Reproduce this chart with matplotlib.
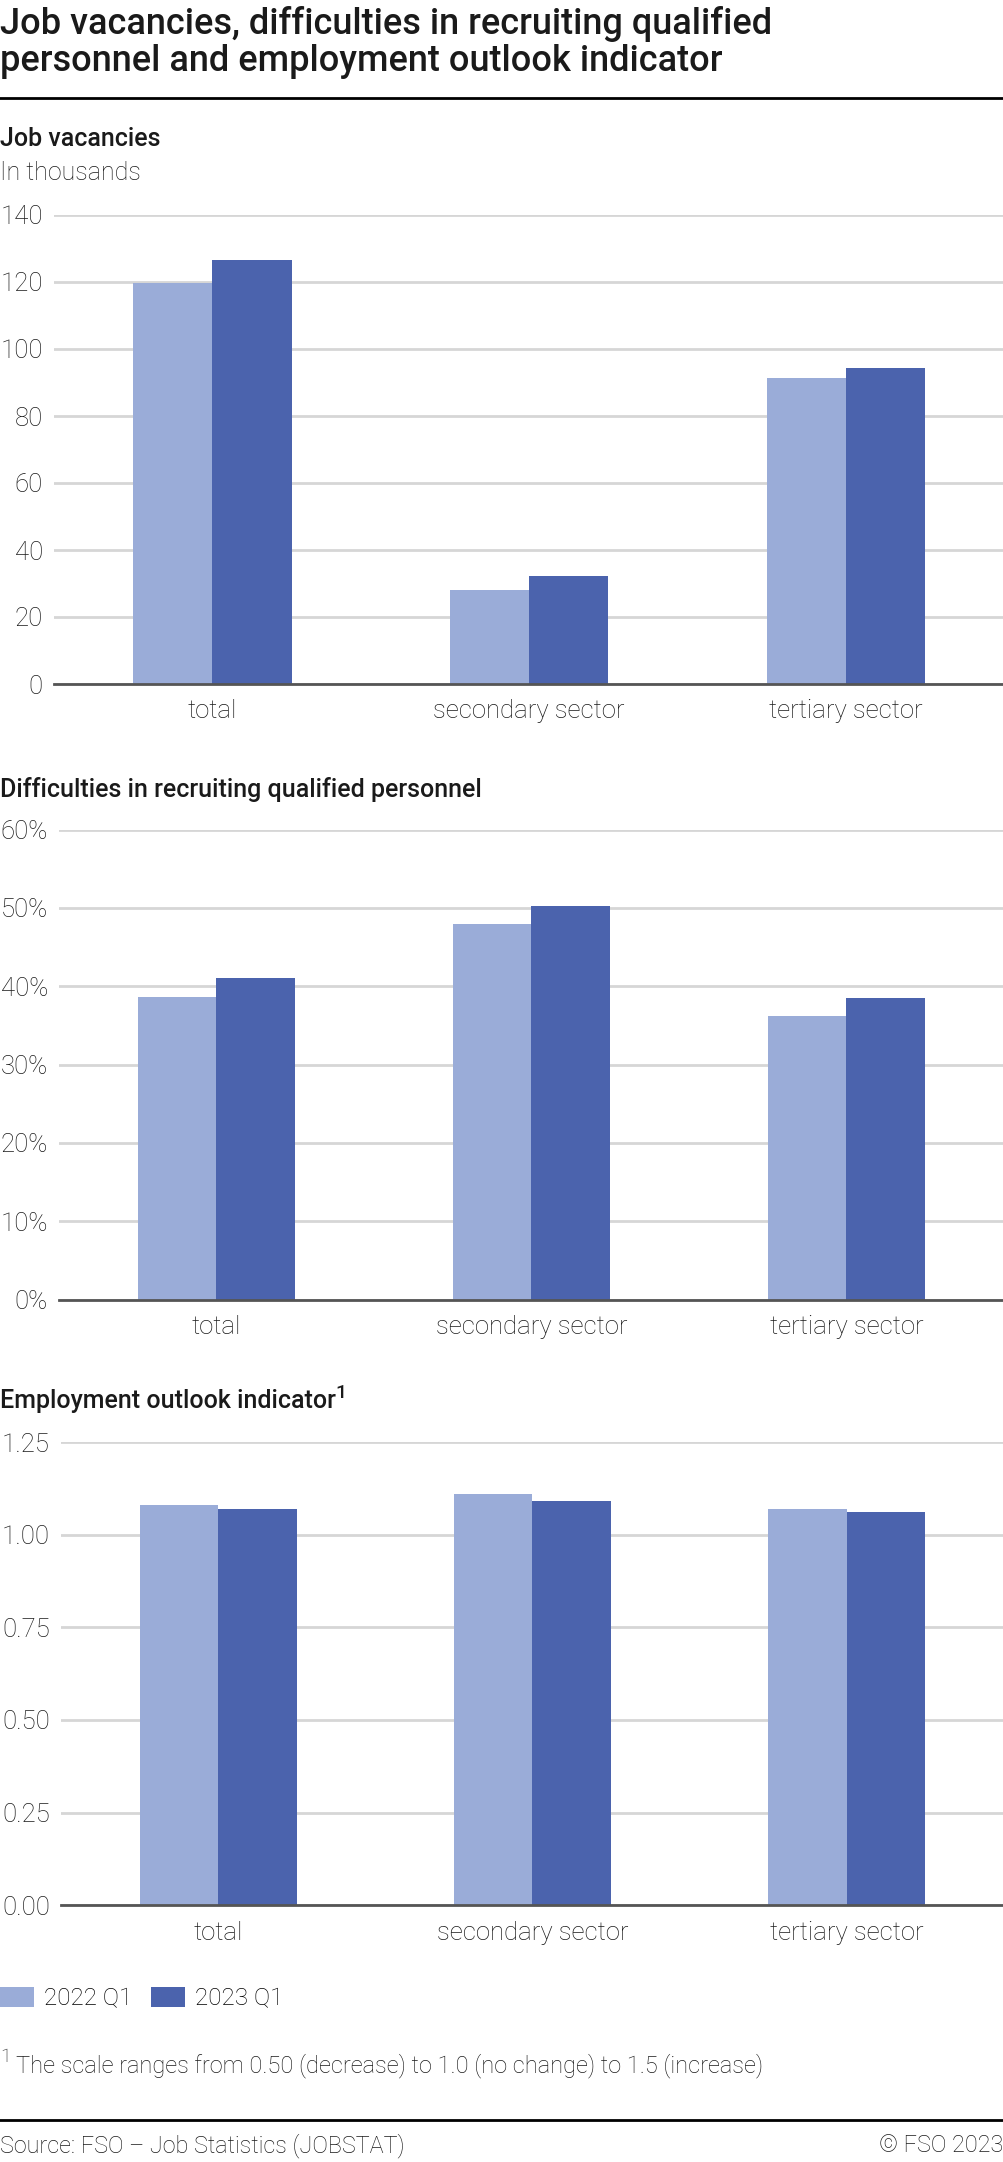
import matplotlib
matplotlib.use("Agg")
import matplotlib.pyplot as plt
from matplotlib.lines import Line2D
import numpy as np

plt.rcParams['font.family'] = ['Roboto', 'DejaVu Sans']

categories = ["total", "secondary sector", "tertiary sector"]
series_names = ["2022 Q1", "2023 Q1"]
vacancies_2022 = [119.6, 28.0, 91.4]
vacancies_2023 = [126.6, 32.2, 94.3]
difficulties_2022 = [38.6, 47.9, 36.2]
difficulties_2023 = [41.0, 50.3, 38.5]
outlook_2022 = [1.08, 1.11, 1.07]
outlook_2023 = [1.07, 1.09, 1.06]

vac_ticks = [0, 20, 40, 60, 80, 100, 120, 140]
diff_ticks = [0, 10, 20, 30, 40, 50, 60]
out_ticks = [0.00, 0.25, 0.50, 0.75, 1.00, 1.25]

LIGHT = "#9aacd8"
DARK = "#4b63ad"
GRID = "#d6d6d6"
BASE = "#555555"
TXT = "#1a1a1a"

W, H = 1004, 2162
fig = plt.figure(figsize=(W / 100, H / 100), dpi=100)

def fy(y):
    return 1 - y / H

TICK_FS = 18.5

def make_axes(left_px, top_px, bottom_px, s1, s2, ticks, fmt):
    ax = fig.add_axes([left_px / W, fy(bottom_px), 1 - left_px / W, (bottom_px - top_px) / H])
    x = np.arange(len(categories))
    bw = 0.25
    b1 = ax.bar(x - bw / 2, s1, bw, color=LIGHT, linewidth=0, label=series_names[0], zorder=3)
    b2 = ax.bar(x + bw / 2, s2, bw, color=DARK, linewidth=0, label=series_names[1], zorder=3)
    ax.set_xlim(-0.5, 2.5)
    ax.set_ylim(ticks[0], ticks[-1])
    ax.set_yticks(ticks)
    ax.set_yticklabels([fmt(t) for t in ticks])
    ax.set_xticks(x)
    ax.set_xticklabels(categories)
    for sp in ax.spines.values():
        sp.set_visible(False)
    ax.grid(axis='y', color=GRID, linewidth=2.0, zorder=0)
    ax.axhline(ticks[0], color=BASE, linewidth=2.0, zorder=4, clip_on=False)
    ax.tick_params(axis='both', length=0, labelsize=TICK_FS, colors=TXT)
    ax.tick_params(axis='y', pad=8)
    ax.tick_params(axis='x', pad=11)
    for lab in ax.get_xticklabels() + ax.get_yticklabels():
        lab.set_fontweight('light')
    return ax, b1, b2

ax1, h1, h2 = make_axes(54, 215, 684, vacancies_2022, vacancies_2023, vac_ticks, lambda t: f"{t:d}")
ax2, _, _ = make_axes(59, 829.6, 1299.6, difficulties_2022, difficulties_2023, diff_ticks, lambda t: f"{t:d}%")
ax3, _, _ = make_axes(61, 1442, 1905.3, outlook_2022, outlook_2023, out_ticks, lambda t: f"{t:.2f}")

# Main title
fig.text(0.0, fy(34), "Job vacancies, difficulties in recruiting qualified", fontsize=26,
         fontweight='medium', color=TXT, va='baseline', ha='left')
fig.text(0.0, fy(71), "personnel and employment outlook indicator", fontsize=26,
         fontweight='medium', color=TXT, va='baseline', ha='left')
fig.add_artist(Line2D([0, 1], [fy(98), fy(98)], transform=fig.transFigure, color='black', linewidth=2.0))

SUB_FS = 18
# Subtitles
fig.text(0.0, fy(146), "Job vacancies", fontsize=SUB_FS, fontweight='medium', color=TXT, va='baseline')
fig.text(0.0, fy(180), "In thousands", fontsize=SUB_FS, fontweight='light', color=TXT, va='baseline')
fig.text(0.0, fy(797), "Difficulties in recruiting qualified personnel", fontsize=SUB_FS,
         fontweight='medium', color=TXT, va='baseline')
t3 = fig.text(0.0, fy(1408), "Employment outlook indicator", fontsize=SUB_FS,
              fontweight='medium', color=TXT, va='baseline')

renderer = fig.canvas.get_renderer()
bb = t3.get_window_extent(renderer)
fig.text(bb.x1 / W, fy(1408) + 10 / H, "1", fontsize=14, fontweight='medium',
         color=TXT, va='baseline', ha='left')

# Legend
fig.legend(handles=[h1, h2], labels=series_names, loc='center left',
           bbox_to_anchor=(0.0, fy(1999)), frameon=False,
           ncol=2, handlelength=1.4, handleheight=0.85, handletextpad=0.4,
           columnspacing=0.8, borderpad=0, borderaxespad=0,
           prop={'weight': 'light', 'size': 17.5})

# Footnote
fig.text(0.0, fy(2072) + 10 / H, "1", fontsize=14, fontweight='light', color=TXT, va='baseline')
fig.text(16 / W, fy(2072), "The scale ranges from 0.50 (decrease) to 1.0 (no change) to 1.5 (increase)",
         fontsize=17, fontweight='light', color=TXT, va='baseline')

fig.add_artist(Line2D([0, 1], [fy(2120), fy(2120)], transform=fig.transFigure, color='black', linewidth=2.0))
fig.text(0.0, fy(2152), "Source: FSO \u2013 Job Statistics (JOBSTAT)", fontsize=16.8,
         fontweight='light', color=TXT, va='baseline', ha='left')
fig.text(0.999, fy(2152), "\u00a9 FSO 2023", fontsize=16.8,
         fontweight='light', color=TXT, va='baseline', ha='right')

fig.savefig("out.png", dpi=100)
